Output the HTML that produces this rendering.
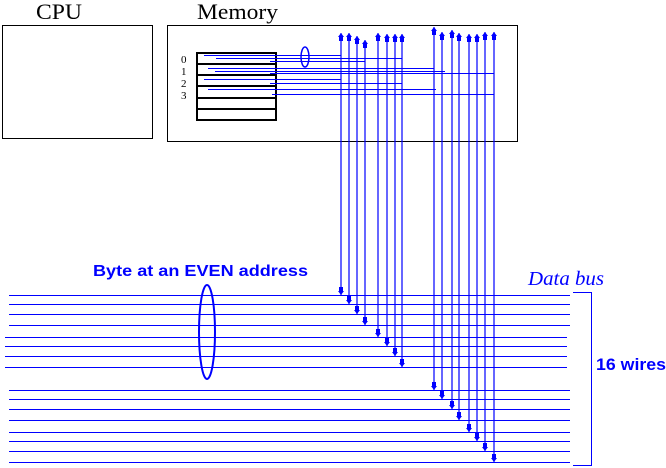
<!DOCTYPE html>
<html><head><meta charset="utf-8"><style>html,body{margin:0;padding:0;background:#fff}svg{display:block}</style></head>
<body>
<svg width="666" height="468" viewBox="0 0 666 468" xmlns="http://www.w3.org/2000/svg">
<defs>
<marker id="up" markerWidth="6" markerHeight="8" refX="3" refY="0" orient="0" markerUnits="userSpaceOnUse"><path d="M0,4 L3,0 L6,4 L5,4 L5,8 L1,8 L1,4 Z" fill="#0000ff"/></marker>
<marker id="dn" markerWidth="6" markerHeight="8" refX="3" refY="8" orient="0" markerUnits="userSpaceOnUse"><path d="M1,0 L5,0 L5,4 L6,4 L3,8 L0,4 L1,4 Z" fill="#0000ff"/></marker>
</defs>
<g font-family="Liberation Serif, serif" font-size="22" fill="#000">
<text x="36" y="19" textLength="46" lengthAdjust="spacingAndGlyphs">CPU</text>
<text x="197" y="19" textLength="81" lengthAdjust="spacingAndGlyphs">Memory</text>
</g>
<rect x="2.5" y="25.5" width="150" height="113" fill="none" stroke="#000" stroke-width="1"/>
<rect x="167.5" y="25.5" width="350" height="116" fill="none" stroke="#000" stroke-width="1"/>
<g stroke="#000" stroke-width="2" fill="none">
<rect x="197" y="53" width="79" height="67"/>
<line x1="197" y1="64" x2="276" y2="64"/><line x1="197" y1="75" x2="276" y2="75"/>
<line x1="197" y1="86" x2="276" y2="86"/><line x1="197" y1="98" x2="276" y2="98"/>
<line x1="197" y1="109" x2="276" y2="109"/>
</g>
<g font-family="Liberation Serif, serif" font-size="11" fill="#000">
<text x="181" y="63">0</text><text x="181" y="75">1</text><text x="181" y="87">2</text><text x="181" y="99">3</text>
</g>
<g stroke="#0000ff" stroke-width="1" fill="none">
<line x1="204" y1="55.5" x2="341" y2="55.5"/>
<line x1="216" y1="58.5" x2="402" y2="58.5"/>
<line x1="270" y1="61.5" x2="365" y2="61.5"/>
<line x1="208" y1="68.5" x2="434" y2="68.5"/>
<line x1="215" y1="71.5" x2="445" y2="71.5"/>
<line x1="270" y1="73.5" x2="494" y2="73.5"/>
<line x1="204" y1="79.5" x2="341" y2="79.5"/>
<line x1="270" y1="83.5" x2="402" y2="83.5"/>
<line x1="208" y1="89.5" x2="436" y2="89.5"/>
<line x1="272" y1="94.5" x2="494" y2="94.5"/>
<ellipse cx="305" cy="57" rx="4" ry="10" stroke-width="1.5"/>
</g>
<g stroke="#0000ff" stroke-width="1" fill="none">
<line x1="9" y1="295.5" x2="570" y2="295.5"/>
<line x1="9" y1="304.5" x2="570" y2="304.5"/>
<line x1="9" y1="314.5" x2="570" y2="314.5"/>
<line x1="9" y1="325.5" x2="570" y2="325.5"/>
<line x1="5" y1="337.5" x2="567" y2="337.5"/>
<line x1="5" y1="346.5" x2="567" y2="346.5"/>
<line x1="5" y1="356.5" x2="567" y2="356.5"/>
<line x1="5" y1="367.5" x2="567" y2="367.5"/>
<line x1="9" y1="390.5" x2="570" y2="390.5"/>
<line x1="9" y1="399.5" x2="570" y2="399.5"/>
<line x1="9" y1="409.5" x2="570" y2="409.5"/>
<line x1="9" y1="420.5" x2="570" y2="420.5"/>
<line x1="9" y1="432.5" x2="570" y2="432.5"/>
<line x1="9" y1="441.5" x2="570" y2="441.5"/>
<line x1="9" y1="451.5" x2="570" y2="451.5"/>
<line x1="9" y1="462.5" x2="570" y2="462.5"/>
<ellipse cx="207" cy="332" rx="8" ry="47" stroke-width="2"/>
<polyline points="573,292.5 591.5,292.5 591.5,465.5 573,465.5"/>
</g>
<g stroke="#0000ff" stroke-width="1.2" marker-start="url(#up)" marker-end="url(#dn)">
<line x1="341" y1="33" x2="341" y2="295"/>
<line x1="349" y1="33" x2="349" y2="304"/>
<line x1="357" y1="36" x2="357" y2="314"/>
<line x1="365" y1="40" x2="365" y2="325"/>
<line x1="378" y1="33" x2="378" y2="337"/>
<line x1="387" y1="34" x2="387" y2="346"/>
<line x1="395" y1="34" x2="395" y2="356"/>
<line x1="402" y1="34" x2="402" y2="367"/>
<line x1="434" y1="27" x2="434" y2="390"/>
<line x1="442" y1="32" x2="442" y2="399"/>
<line x1="452" y1="30" x2="452" y2="409"/>
<line x1="459" y1="33" x2="459" y2="420"/>
<line x1="469" y1="34" x2="469" y2="432"/>
<line x1="477" y1="34" x2="477" y2="441"/>
<line x1="485" y1="32" x2="485" y2="451"/>
<line x1="494" y1="32" x2="494" y2="462"/>
</g>
<text x="93" y="276" font-family="Liberation Sans, sans-serif" font-weight="bold" font-size="16" fill="#0000ff" textLength="215" lengthAdjust="spacingAndGlyphs">Byte at an EVEN address</text>
<text x="528" y="285" font-family="Liberation Serif, serif" font-style="italic" font-size="20" fill="#0000ff" textLength="76" lengthAdjust="spacingAndGlyphs">Data bus</text>
<text x="596" y="370" font-family="Liberation Sans, sans-serif" font-weight="bold" font-size="17" fill="#0000ff" textLength="70" lengthAdjust="spacingAndGlyphs">16 wires</text>
</svg>
</body></html>
